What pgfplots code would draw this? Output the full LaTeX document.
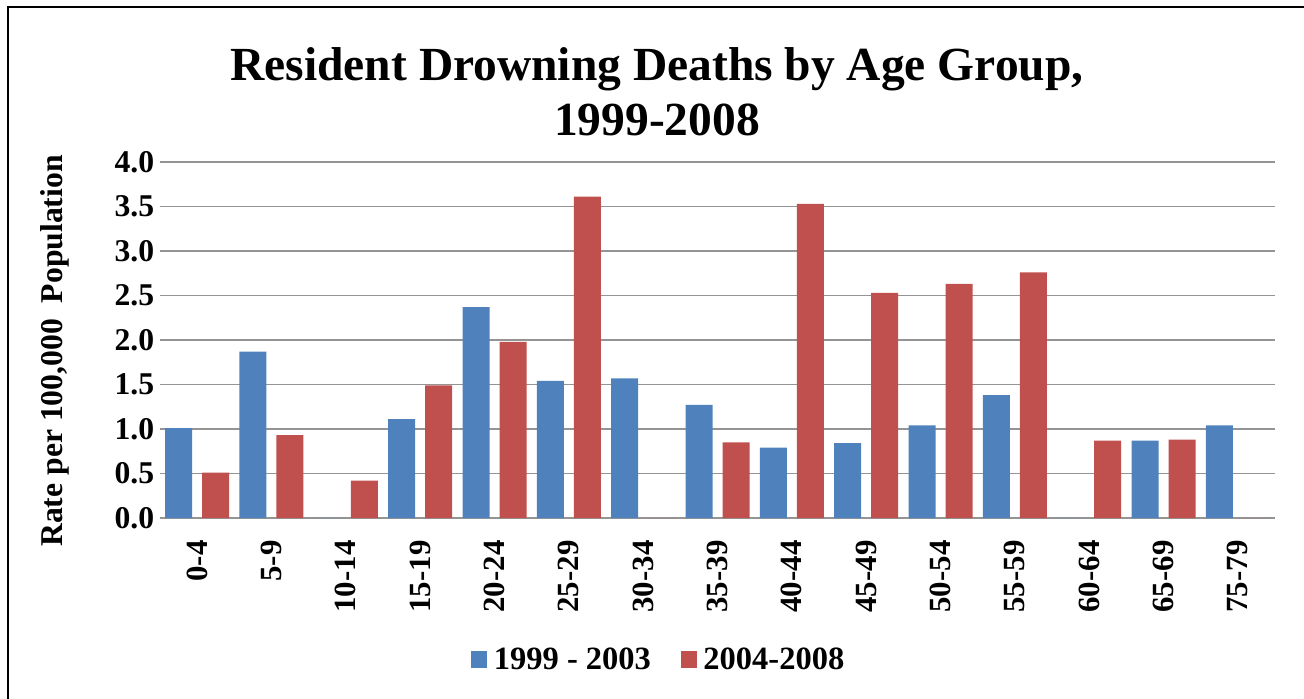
\documentclass[border=0pt]{standalone}
\usepackage{pgfplots}
\pgfplotsset{compat=1.18}
\usepackage{fontspec}
\setmainfont{Liberation Serif}
\definecolor{cblue}{HTML}{4F81BD}
\definecolor{cred}{HTML}{C0504D}
\begin{document}
\begin{tikzpicture}[x=0.6pt,y=0.6pt]
\useasboundingbox (0,0) rectangle (1304,698);
\draw[line width=1.5pt] (8,-5) -- (8,691) -- (1310,691);
\node[align=center,font=\fontsize{28.5}{33}\selectfont\bfseries] at (657,606) {Resident Drowning Deaths by Age Group,\\1999-2008};
\begin{axis}[
  at={(96pt,108pt)}, anchor=south west,
  scale only axis, width=669pt, height=213.6pt,
  ybar, bar width=16.2pt, ybar=6pt,
  ymin=0, ymax=4, ytick={0,0.5,...,4},
  xmin=-0.5, xmax=14.5,
  xtick={0,...,14},
  xticklabels={0-4,5-9,10-14,15-19,20-24,25-29,30-34,35-39,40-44,45-49,50-54,55-59,60-64,65-69,75-79},
  xticklabel style={rotate=90, anchor=east, font=\fontsize{18.5}{20}\selectfont\bfseries},
  xticklabel shift=10pt,
  yticklabel style={font=\fontsize{19}{20}\selectfont\bfseries},
  /pgf/number format/assume math mode=true,
  /pgf/number format/.cd, fixed, fixed zerofill, precision=1, /pgfplots/.cd,
  major tick length=0pt,
  ymajorgrids, grid style={gray!80!black!70, line width=1pt},
  axis line style={draw=none},
  extra y ticks={0}, extra y tick labels={},
  extra y tick style={grid style={gray!80!black!70, line width=1.5pt}},
  ylabel={Rate per 100,000~~Population},
  ylabel style={at={(axis description cs:-0.094,0.469)}, anchor=center, font=\fontsize{19}{20}\selectfont\bfseries},
  legend style={at={(0.448,-0.40)}, anchor=center, draw=none, legend columns=2,
    font=\fontsize{19.5}{20}\selectfont\bfseries, /tikz/every even column/.append style={column sep=16pt}},
  legend image code/.code={\fill[#1] (0pt,-4.5pt) rectangle (9.5pt,5.5pt);},
  legend cell align=left,
]
\addplot[fill=cblue, draw=none] coordinates {(0,1.01) (1,1.87) (2,0) (3,1.11) (4,2.37) (5,1.54) (6,1.57) (7,1.27) (8,0.79) (9,0.84) (10,1.04) (11,1.38) (12,0) (13,0.87) (14,1.04)};
\addplot[fill=cred, draw=none] coordinates {(0,0.51) (1,0.93) (2,0.42) (3,1.49) (4,1.98) (5,3.61) (6,0) (7,0.85) (8,3.53) (9,2.53) (10,2.63) (11,2.76) (12,0.87) (13,0.88) (14,0)};
\legend{\hspace{2pt}1999 - 2003,\hspace{2pt}2004-2008}
\end{axis}
\end{tikzpicture}
\end{document}
